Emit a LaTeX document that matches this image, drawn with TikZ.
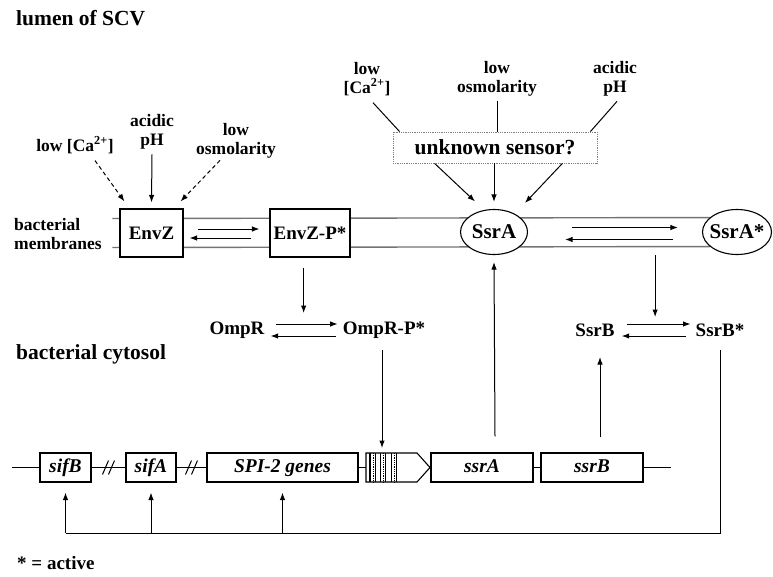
\documentclass[tikz,border=0pt]{standalone}
\usepackage{fontspec}
\setmainfont{Liberation Serif}
\usetikzlibrary{arrows.meta,calc,shapes.geometric,backgrounds}

\begin{document}
\begin{tikzpicture}[x=1pt, y=-1pt,
	every node/.style={font=\bfseries\fontsize{19}{21}\selectfont, inner sep=1pt},
	>={Latex[length=7.5pt,width=5.5pt]},
	lab/.style={font=\bfseries\fontsize{17.5}{18.5}\selectfont, align=center},
	big/.style={font=\bfseries\fontsize{21.5}{24}\selectfont, anchor=base west},
	prot/.style={draw, fill=white, line width=1.1pt, minimum height=48pt, inner sep=0pt},
	elli/.style={draw, ellipse, fill=white, line width=1.1pt, minimum width=67pt, minimum height=45pt, inner sep=0pt, font=\bfseries\fontsize{21}{23}\selectfont},
	gene/.style={draw, fill=white, line width=1.1pt, minimum height=29pt, inner sep=0pt, text height=13pt, text depth=4pt, font=\bfseries\itshape\fontsize{19.5}{21}\selectfont},
	memb/.style={black!55, line width=1.4pt},
	wire/.style={line width=1pt},
	dashline/.style={dash pattern=on 4pt off 3pt}]
	\useasboundingbox (0,0) rectangle (773,576);
	% compartments
	\node[big] (lumen) at (15,25) {lumen of SCV};
	\node[big] (cytosol) at (15,359) {bacterial cytosol};
	\node[big, font=\bfseries\fontsize{19}{21}\selectfont] (active) at (16,569) {* = active};
	\node[lab, anchor=west, align=left] (membr) at (13,234) {bacterial\\membranes};
	% membrane proteins
	\node[prot, minimum width=63pt] (envz) at (151.5,233) {EnvZ};
	\node[prot, minimum width=80pt] (envzp) at (310,233) {EnvZ-P*};
	\node[elli] (ssra) at (494,232) {\makebox[0pt]{SsrA}};
	\node[elli, minimum width=69pt] (ssras) at (737,232) {\makebox[0pt]{SsrA*}};
	\begin{scope}[on background layer]
		\foreach \yy in {-14.5,14.5}
			\draw[memb] ($(envz.west)+(-7,\yy)$) -- ($(ssras.center)+(0,\yy)$);
	\end{scope}
	% signals
	\node[lab] (ca1) at (75,145) {low [Ca\textsuperscript{2+}]};
	\node[lab] (ph1) at (152,132) {acidic\\pH};
	\node[lab] (osm1) at (236,141) {low\\osmolarity};
	\node[lab] (ca2) at (367,79) {low\\{[Ca\textsuperscript{2+}]}};
	\node[lab] (osm2) at (497,79) {low\\osmolarity};
	\node[lab] (ph2) at (615,79) {acidic\\pH};
	\node[draw=gray, densely dotted, line width=0.8pt, minimum width=204pt, minimum height=31pt, font=\bfseries\fontsize{21.5}{23}\selectfont] (sensor) at (495,147.5) {unknown sensor?};
	\draw[wire, dashline, ->] ($(ca1.south)+(20,6)$) -- ($(envz.north west)+(5,-7)$);
	\draw[wire, ->] ($(ph1.south)+(0,4)$) -- ($(envz.north)+(0,-6)$);
	\draw[wire, dashline, ->] ($(osm1.south)+(-16,1)$) -- ($(envz.north east)+(-3,-7)$);
	\draw[wire] ($(ca2.south)+(6,6)$) -- ($(sensor.north west)+(7,0)$);
	\draw[wire] ($(osm2.south)+(0,4)$) -- (osm2.south |- sensor.north);
	\draw[wire] ($(ph2.south)+(2,4)$) -- ($(sensor.north east)+(-7,0)$);
	\draw[wire, ->] ($(sensor.south west)+(42,0)$) -- ($(ssra.north)+(-19,-7.5)$);
	\draw[wire, ->] (ssra.north |- sensor.south) -- ($(ssra.north)+(0,-7)$);
	\draw[wire, ->] ($(sensor.south east)+(-35,0)$) -- ($(ssra.north)+(31,-6)$);
	% phosphorylation
	\draw[wire, ->] ($(envz.east)+(14,-4)$) -- ($(envzp.west)+(-10,-4)$);
	\draw[wire, ->] ($(envzp.west)+(-18,5)$) -- ($(envz.east)+(6,5)$);
	\draw[wire, ->] ($(ssra.east)+(44,-4.5)$) -- ($(ssras.west)+(-24,-4.5)$);
	\draw[wire, ->] ($(ssras.west)+(-29,7.5)$) -- ($(ssra.east)+(37,7.5)$);
	% response regulators
	\node (ompr) at (237,330) {OmpR};
	\node (omprp) at (384,330) {OmpR-P*};
	\node (ssrb) at (595,330) {SsrB};
	\node (ssrbs) at (720,330) {SsrB*};
	\draw[wire, ->] ($(ompr.east)+(10,-6)$) -- ($(omprp.west)+(-4,-6)$);
	\draw[wire, ->] ($(omprp.west)+(-6,6)$) -- ($(ompr.east)+(5,6)$);
	\draw[wire, ->] ($(ssrb.east)+(11,-6)$) -- ($(ssrbs.west)+(-4,-6)$);
	\draw[wire, ->] ($(ssrbs.west)+(-9,6)$) -- ($(ssrb.east)+(6,6)$);
	\coordinate (omprmid) at ($(ompr.east)!0.5!(omprp.west)$);
	\coordinate (ssrbmid) at ($(ssrb.east)!0.5!(ssrbs.west)$);
	\draw[wire, ->] ($(omprmid |- envzp.south)+(0,10)$) -- ($(omprmid)+(0,-17)$);
	\draw[wire, ->] (ssrbmid |- ssra.south) -- ($(ssrbmid)+(0,-13)$);
	% genes
	\node[gene, minimum width=51pt] (sifb) at (65.5,467.5) {sifB};
	\node[gene, minimum width=50pt] (sifa) at (151,467.5) {sifA};
	\node[gene, minimum width=151pt] (spi) at (282.5,467.5) {SPI-2 genes};
	\node[gene, minimum width=102pt] (ssragene) at (482,467.5) {ssrA};
	\node[gene, minimum width=102pt] (ssrbgene) at (592,467.5) {ssrB};
	\coordinate (prom) at (366,453);
	\begin{scope}[on background layer]
		\draw[wire] ($(sifb.west)+(-27,0)$) -- ($(ssrbgene.east)+(27,0)$);
	\end{scope}
	\draw[line width=1.1pt, fill=white] (prom) -- ++(51,0) -- ++(13,14.5) -- ++(-13,14.5) -- ++(-51,0) -- cycle;
	\draw[line width=0.5pt] ($(prom)+(3,0)$) -- ++(0,29);
	\foreach \s in {7,17,28} {
		\draw[line width=0.4pt] ($(prom)+(\s-2.5,0)$) -- ++(0,29);
		\draw[line width=0.4pt] ($(prom)+(\s+2.5,0)$) -- ++(0,29);
		\draw[line width=0.8pt, densely dotted] ($(prom)+(\s,0)$) -- ++(0,29);
	}
	\foreach \a/\b in {sifb/sifa, sifa/spi} {
		\coordinate (brk) at ($(\a.east)!0.5!(\b.west)$);
		\draw[wire] ($(brk)+(-6,7)$) -- ++(6,-14);
		\draw[wire] ($(brk)+(0,7)$) -- ++(6,-14);
	}
	% regulation
	\draw[wire, ->] ($(omprp.center)+(-2,20)$) -- ($(prom)+(16,-5)$);
	\draw[wire, ->] ($(ssragene.north)+(13,-16)$) -- ($(ssra.south)+(0,7)$);
	\draw[wire, ->] ($(ssrbgene.north)+(8,-15)$) -- ($(ssrb.center)+(5,27)$);
	\coordinate (fb) at ($(ssrbs.center)+(0,203)$);
	\draw[wire] ($(ssrbs.center)+(0,20)$) -- (fb) -- (fb -| sifb);
	\foreach \g in {sifb,sifa,spi}
		\draw[wire, ->] (fb -| \g) -- ($(\g.south)+(0,10)$);
\end{tikzpicture}
\end{document}
